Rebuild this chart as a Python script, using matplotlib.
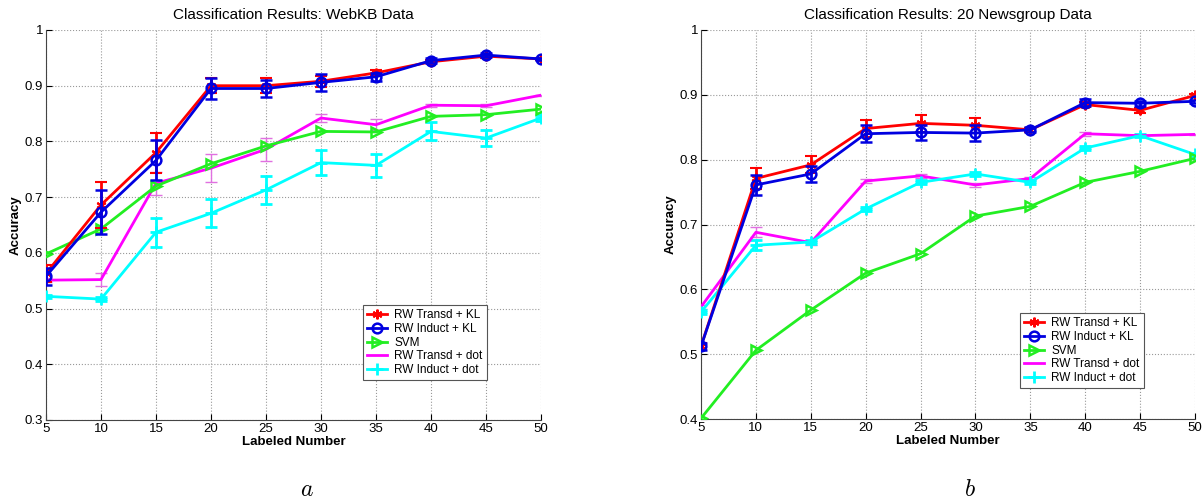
import matplotlib
matplotlib.use("Agg")
import matplotlib.pyplot as plt
from matplotlib.lines import Line2D
from matplotlib.ticker import FormatStrFormatter

plt.rcParams['font.family'] = ['Liberation Sans', 'DejaVu Sans']
plt.rcParams['mathtext.fontset'] = 'cm'

# data
labeled = [5, 10, 15, 20, 25, 30, 35, 40, 45, 50]
names = ["RW Transd + KL", "RW Induct + KL", "SVM", "RW Transd + dot", "RW Induct + dot"]

# WebKB
web_transd_kl = [0.563, 0.686, 0.780, 0.900, 0.900, 0.908, 0.923, 0.943, 0.953, 0.948]
web_transd_kl_err = [0.015, 0.041, 0.036, 0.013, 0.013, 0.010, 0.005, 0.003, 0.003, 0.002]
web_induct_kl = [0.558, 0.673, 0.766, 0.895, 0.895, 0.906, 0.916, 0.945, 0.955, 0.948]
web_induct_kl_err = [0.015, 0.040, 0.036, 0.018, 0.016, 0.015, 0.007, 0.004, 0.003, 0.002]
web_svm = [0.598, 0.643, 0.720, 0.760, 0.792, 0.818, 0.817, 0.845, 0.848, 0.858]
web_transd_dot = [0.551, 0.552, 0.725, 0.752, 0.786, 0.842, 0.830, 0.865, 0.864, 0.883]
web_transd_dot_err = [0.003, 0.011, 0.021, 0.025, 0.021, 0.007, 0.010, 0.003, 0.003, 0.001]
web_induct_dot = [0.522, 0.517, 0.637, 0.671, 0.713, 0.762, 0.757, 0.818, 0.806, 0.842]
web_induct_dot_err = [0.003, 0.004, 0.026, 0.025, 0.025, 0.022, 0.020, 0.016, 0.015, 0.005]

# 20 Newsgroup
news_transd_kl = [0.512, 0.771, 0.792, 0.848, 0.856, 0.853, 0.846, 0.885, 0.876, 0.899]
news_transd_kl_err = [0.005, 0.016, 0.013, 0.013, 0.013, 0.012, 0.003, 0.004, 0.004, 0.003]
news_induct_kl = [0.512, 0.761, 0.778, 0.840, 0.842, 0.841, 0.846, 0.888, 0.887, 0.890]
news_induct_kl_err = [0.005, 0.015, 0.013, 0.013, 0.012, 0.012, 0.004, 0.005, 0.004, 0.002]
news_svm = [0.401, 0.506, 0.568, 0.625, 0.655, 0.713, 0.728, 0.765, 0.782, 0.802]
news_transd_dot = [0.573, 0.688, 0.672, 0.767, 0.775, 0.761, 0.771, 0.840, 0.837, 0.839]
news_transd_dot_err = [0.003, 0.008, 0.003, 0.003, 0.003, 0.003, 0.002, 0.003, 0.001, 0.001]
news_induct_dot = [0.565, 0.668, 0.673, 0.724, 0.765, 0.778, 0.765, 0.818, 0.837, 0.808]
news_induct_dot_err = [0.003, 0.008, 0.003, 0.003, 0.003, 0.003, 0.003, 0.003, 0.002, 0.002]

RED = "#ff0000"
BLUE = "#0000e0"
GREEN = "#22ee22"
MAGENTA = "#ff00ff"
CYAN = "#00ffff"
ASTER = (6, 2, 0)

# line styles per series (legend uses these too, without error bar caps)
styles = [
    dict(color=RED, lw=2, marker=ASTER, ms=7, mew=1.5),
    dict(color=BLUE, lw=2, marker='o', ms=7, mfc='none', mew=1.8),
    dict(color=GREEN, lw=2, marker='>', ms=7, mfc='none', mew=1.8),
    dict(color=MAGENTA, lw=2),
    dict(color=CYAN, lw=2, marker='+', ms=8, mew=2),
]


def draw(ax, tkl, tkl_e, ikl, ikl_e, svm, tdot, tdot_e, idot, idot_e, title, ymin):
    ax.errorbar(labeled, tkl, yerr=tkl_e, capsize=4, capthick=2, elinewidth=2,
                zorder=5, **styles[0])
    ax.errorbar(labeled, ikl, yerr=ikl_e, capsize=4, capthick=2, elinewidth=2,
                zorder=6, **styles[1])
    ax.plot(labeled, svm, zorder=4, **styles[2])
    ax.errorbar(labeled, tdot, yerr=tdot_e, capsize=4, elinewidth=1, capthick=1,
                ecolor="#e070e0", zorder=3, **styles[3])
    ax.errorbar(labeled, idot, yerr=idot_e, capsize=4, capthick=2, elinewidth=2,
                zorder=3, **styles[4])

    ax.set_xlim(5, 50)
    ax.set_ylim(ymin, 1)
    ax.set_xticks(labeled)
    ax.yaxis.set_major_formatter(FormatStrFormatter('%g'))
    ax.tick_params(direction='in', labelsize=9.5, length=4, pad=2)
    ax.grid(True, linestyle=':', color='#999999', lw=0.8)
    ax.spines['top'].set_visible(False)
    ax.spines['right'].set_visible(False)
    ax.spines['left'].set_color('#444444')
    ax.spines['bottom'].set_color('#444444')
    ax.set_title(title, fontsize=11, pad=8)
    ax.set_xlabel("Labeled Number", fontsize=9.5, fontweight='bold', labelpad=1)
    ax.set_ylabel("Accuracy", fontsize=9.5, fontweight='bold', labelpad=2)


fig = plt.figure(figsize=(12.02, 5), dpi=100)
ax1 = fig.add_axes([46 / 1202, 1 - 420 / 500, 495 / 1202, 390 / 500])
ax2 = fig.add_axes([701 / 1202, 1 - 419 / 500, 494 / 1202, 389 / 500])

draw(ax1, web_transd_kl, web_transd_kl_err, web_induct_kl, web_induct_kl_err, web_svm,
     web_transd_dot, web_transd_dot_err, web_induct_dot, web_induct_dot_err,
     "Classification Results: WebKB Data", 0.3)
draw(ax2, news_transd_kl, news_transd_kl_err, news_induct_kl, news_induct_kl_err, news_svm,
     news_transd_dot, news_transd_dot_err, news_induct_dot, news_induct_dot_err,
     "Classification Results: 20 Newsgroup Data", 0.4)

handles = [Line2D([], [], **s) for s in styles]
for ax, x0, y0 in [(ax1, 363, 305), (ax2, 1020, 313)]:
    leg = ax.legend(handles, names, loc='upper left', bbox_to_anchor=(x0 / 1202, 1 - y0 / 500),
                    bbox_transform=fig.transFigure, fontsize=8.5, fancybox=False,
                    framealpha=1, edgecolor='#555555', borderpad=0.35, labelspacing=0.15,
                    handlelength=1.7, handletextpad=0.6, borderaxespad=0)
    leg.get_frame().set_linewidth(0.8)

fig.text(307 / 1202, 1 - 490 / 500, "$a$", fontsize=17, ha='center', va='center')
fig.text(970 / 1202, 1 - 490 / 500, "$b$", fontsize=17, ha='center', va='center')

fig.savefig("out.png", dpi=100)
